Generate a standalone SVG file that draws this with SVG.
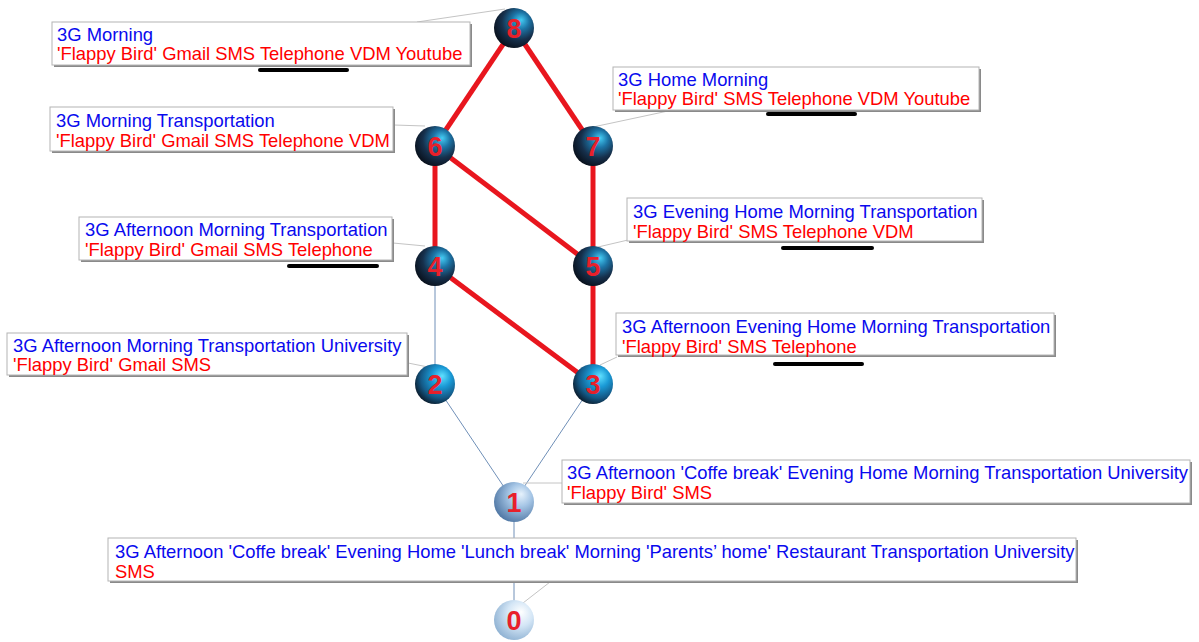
<svg xmlns="http://www.w3.org/2000/svg" width="1199" height="642" viewBox="0 0 1199 642">
<style>
.bx{fill:#fff;stroke:#b4b4b4;stroke-width:1}
.sh{fill:#8a8a8a}
.t1{font-family:"Liberation Sans",Arial,sans-serif;font-size:18.4px;fill:#0a0aee}
.t2{font-family:"Liberation Sans",Arial,sans-serif;font-size:18.4px;fill:#ff0000}
.num{font-family:"Liberation Sans",Arial,sans-serif;font-size:27px;font-weight:bold;fill:#e8202a;text-anchor:middle}
.red{stroke:#e8161e;stroke-width:5;fill:none}
.thin{stroke:#7090b8;stroke-width:1;fill:none}
.lead{stroke:#c4c4c4;stroke-width:1;fill:none}
.ul{stroke:#000;stroke-width:4;stroke-linecap:round}
</style>
<defs>
<radialGradient id="gDark" cx="0.62" cy="0.38" r="0.72" fx="0.68" fy="0.3">
<stop offset="0" stop-color="#44ccf4"/>
<stop offset="0.3" stop-color="#1c74a6"/>
<stop offset="0.62" stop-color="#16304c"/>
<stop offset="1" stop-color="#060a12"/>
</radialGradient>
<radialGradient id="gMid" cx="0.62" cy="0.38" r="0.7" fx="0.68" fy="0.3">
<stop offset="0" stop-color="#5fe0ff"/>
<stop offset="0.35" stop-color="#1a9ad6"/>
<stop offset="0.7" stop-color="#145a88"/>
<stop offset="1" stop-color="#0a1420"/>
</radialGradient>
<radialGradient id="gLight" cx="0.62" cy="0.38" r="0.7" fx="0.68" fy="0.3">
<stop offset="0" stop-color="#e6f2fc"/>
<stop offset="0.4" stop-color="#a6c6e6"/>
<stop offset="1" stop-color="#4a72a0"/>
</radialGradient>
<radialGradient id="gPale" cx="0.62" cy="0.38" r="0.7" fx="0.68" fy="0.3">
<stop offset="0" stop-color="#ffffff"/>
<stop offset="0.45" stop-color="#d4e6f6"/>
<stop offset="1" stop-color="#8aaed0"/>
</radialGradient>
</defs>

<g id="connectors">
<line class="thin" x1="435" y1="266" x2="435" y2="384"/>
<line class="thin" x1="435" y1="384" x2="514" y2="502"/>
<line class="thin" x1="593" y1="384" x2="514" y2="502"/>
<line class="thin" x1="514" y1="502" x2="514" y2="620"/>
<line class="red" x1="514" y1="28" x2="435" y2="146"/>
<line class="red" x1="514" y1="28" x2="593" y2="146"/>
<line class="red" x1="435" y1="146" x2="435" y2="266"/>
<line class="red" x1="435" y1="146" x2="593" y2="266"/>
<line class="red" x1="593" y1="146" x2="593" y2="266"/>
<line class="red" x1="435" y1="266" x2="593" y2="384"/>
<line class="red" x1="593" y1="266" x2="593" y2="384"/>
<line class="lead" x1="417" y1="22" x2="505" y2="9"/>
<line class="lead" x1="593" y1="127" x2="668" y2="111"/>
<line class="lead" x1="394" y1="125" x2="425" y2="126"/>
<line class="lead" x1="393" y1="243" x2="425" y2="246"/>
<line class="lead" x1="408" y1="363" x2="428" y2="367"/>
<line class="lead" x1="598" y1="247" x2="628" y2="240"/>
<line class="lead" x1="600" y1="365" x2="617" y2="357"/>
<line class="lead" x1="523" y1="483" x2="562" y2="483"/>
<line class="lead" x1="523" y1="603" x2="550" y2="582"/>
</g>

<g id="label-8">
<rect class="sh" x="54" y="24" width="418" height="43"/>
<rect class="bx" x="52" y="22" width="418" height="43"/>
<text class="t1" x="57" y="41">3G Morning</text>
<text class="t2" x="57" y="60">'Flappy Bird' Gmail SMS Telephone VDM Youtube</text>
<line class="ul" x1="260" y1="70" x2="347" y2="70"/>
</g>
<g id="label-7">
<rect class="sh" x="615" y="69" width="366" height="43"/>
<rect class="bx" x="613" y="67" width="366" height="43"/>
<text class="t1" x="618" y="86">3G Home Morning</text>
<text class="t2" x="618" y="105">'Flappy Bird' SMS Telephone VDM Youtube</text>
<line class="ul" x1="768" y1="114" x2="855" y2="114"/>
</g>
<g id="label-6">
<rect class="sh" x="52" y="109" width="343" height="44"/>
<rect class="bx" x="50" y="107" width="343" height="44"/>
<text class="t1" x="56" y="127">3G Morning Transportation</text>
<text class="t2" x="56" y="147">'Flappy Bird' Gmail SMS Telephone VDM</text>
</g>
<g id="label-4">
<rect class="sh" x="81" y="219" width="313" height="43"/>
<rect class="bx" x="79" y="217" width="313" height="43"/>
<text class="t1" x="85" y="236">3G Afternoon Morning Transportation</text>
<text class="t2" x="85" y="256">'Flappy Bird' Gmail SMS Telephone</text>
<line class="ul" x1="289" y1="266" x2="377" y2="266"/>
</g>
<g id="label-2">
<rect class="sh" x="9" y="335" width="400" height="42"/>
<rect class="bx" x="7" y="333" width="400" height="42"/>
<text class="t1" x="13" y="352">3G Afternoon Morning Transportation University</text>
<text class="t2" x="13" y="371">'Flappy Bird' Gmail SMS</text>
</g>
<g id="label-5">
<rect class="sh" x="629" y="200" width="355" height="43"/>
<rect class="bx" x="627" y="198" width="355" height="43"/>
<text class="t1" x="633" y="218">3G Evening Home Morning Transportation</text>
<text class="t2" x="633" y="238">'Flappy Bird' SMS Telephone VDM</text>
<line class="ul" x1="783" y1="248" x2="872" y2="248"/>
</g>
<g id="label-3">
<rect class="sh" x="618" y="315" width="438" height="42"/>
<rect class="bx" x="616" y="313" width="438" height="42"/>
<text class="t1" x="622" y="333">3G Afternoon Evening Home Morning Transportation</text>
<text class="t2" x="622" y="353">'Flappy Bird' SMS Telephone</text>
<line class="ul" x1="775" y1="364" x2="862" y2="364"/>
</g>
<g id="label-1">
<rect class="sh" x="564" y="462" width="628" height="43"/>
<rect class="bx" x="562" y="460" width="628" height="43"/>
<text class="t1" x="567" y="479">3G Afternoon 'Coffe break' Evening Home Morning Transportation University</text>
<text class="t2" x="567" y="499">'Flappy Bird' SMS</text>
</g>
<g id="label-0">
<rect class="sh" x="110" y="540" width="968" height="43"/>
<rect class="bx" x="108" y="538" width="968" height="43"/>
<text class="t1" x="115" y="558">3G Afternoon 'Coffe break' Evening Home 'Lunch break' Morning 'Parents’ home' Restaurant Transportation University</text>
<text class="t2" x="115" y="578">SMS</text>
</g>

<g id="node-8"><circle cx="514" cy="28" r="20" fill="url(#gDark)"/><text class="num" x="514" y="38">8</text></g>
<g id="node-6"><circle cx="435" cy="146" r="20" fill="url(#gDark)"/><text class="num" x="435" y="156">6</text></g>
<g id="node-7"><circle cx="593" cy="146" r="20" fill="url(#gDark)"/><text class="num" x="593" y="156">7</text></g>
<g id="node-4"><circle cx="435" cy="266" r="20" fill="url(#gDark)"/><text class="num" x="435" y="276">4</text></g>
<g id="node-5"><circle cx="593" cy="266" r="20" fill="url(#gDark)"/><text class="num" x="593" y="276">5</text></g>
<g id="node-2"><circle cx="435" cy="384" r="20" fill="url(#gMid)"/><text class="num" x="435" y="394">2</text></g>
<g id="node-3"><circle cx="593" cy="384" r="20" fill="url(#gMid)"/><text class="num" x="593" y="394">3</text></g>
<g id="node-1"><circle cx="514" cy="502" r="20" fill="url(#gLight)"/><text class="num" x="514" y="512">1</text></g>
<g id="node-0"><circle cx="514" cy="620" r="20" fill="url(#gPale)"/><text class="num" x="514" y="630">0</text></g>
</svg>
